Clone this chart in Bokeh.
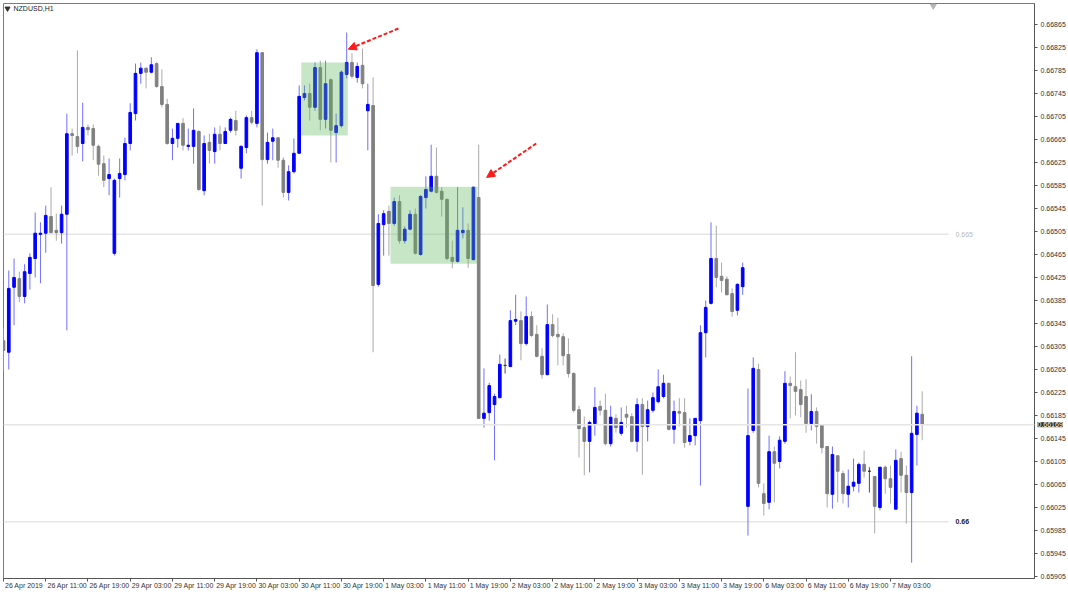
from bokeh.plotting import figure
from bokeh.models import (ColumnDataSource, Range1d, FixedTicker, PrintfTickFormatter,
                          Label, Arrow, NormalHead, Span, BoxAnnotation, LinearAxis)
from bokeh.embed import file_html
from bokeh.resources import INLINE

# ---------------- data (NZDUSD, H1, one bar per hour, index 0 = 26 Apr 2019 03:00) -------------
opens = [
    0.66315, 0.66295, 0.66408, 0.66423, 0.66392, 0.66432, 0.66458, 0.66500, 0.66502, 0.66531,
    0.66507, 0.66503, 0.66535, 0.66675, 0.66670, 0.66658, 0.66686, 0.66684, 0.66653, 0.66623,
    0.66597, 0.66467, 0.66597, 0.66604, 0.66658, 0.66710, 0.66780, 0.66789, 0.66782, 0.66797,
    0.66757, 0.66726, 0.66658, 0.66667, 0.66693, 0.66653, 0.66653, 0.66679, 0.66576, 0.66660,
    0.66644, 0.66674, 0.66658, 0.66681, 0.66698, 0.66615, 0.66651, 0.66703, 0.66693, 0.66816,
    0.66630, 0.66662, 0.66668, 0.66629, 0.66573, 0.66609, 0.66641, 0.66738, 0.66745, 0.66721,
    0.66790, 0.66700, 0.66769, 0.66677, 0.66689, 0.66778, 0.66799, 0.66773, 0.66794, 0.66715,
    0.66724, 0.66413, 0.66517, 0.66540, 0.66519, 0.66557, 0.66489, 0.66509, 0.66535, 0.66465,
    0.66564, 0.66575, 0.66601, 0.66575, 0.66561, 0.66460, 0.66453, 0.66503, 0.66507, 0.66456,
    0.66564, 0.66180, 0.66190, 0.66204, 0.66216, 0.66272, 0.66270, 0.66349, 0.66350, 0.66310,
    0.66357, 0.66326, 0.66288, 0.66256, 0.66343, 0.66326, 0.66322, 0.66291, 0.66258, 0.66195,
    0.66164, 0.66140, 0.66171, 0.66201, 0.66194, 0.66136, 0.66180, 0.66154, 0.66187, 0.66183,
    0.66140, 0.66204, 0.66166, 0.66194, 0.66209, 0.66218, 0.66241, 0.66161, 0.66192, 0.66190,
    0.66140, 0.66150, 0.66176, 0.66329, 0.66380, 0.66458, 0.66427, 0.66422, 0.66397, 0.66368,
    0.66409, 0.66027, 0.66159, 0.66265, 0.66049, 0.66034, 0.66122, 0.66105, 0.66140, 0.66241,
    0.66235, 0.66230, 0.66218, 0.66171, 0.66192, 0.66169, 0.66131, 0.66048, 0.66115, 0.66084,
    0.66048, 0.66062, 0.66067, 0.66100, 0.66088, 0.66079, 0.66025, 0.66095, 0.66075, 0.66022,
    0.66110, 0.66081, 0.66051, 0.66152, 0.66187,
]
highs = [
    0.66336, 0.66437, 0.66458, 0.66435, 0.66448, 0.66467, 0.66538, 0.66521, 0.66550, 0.66582,
    0.66536, 0.66550, 0.66710, 0.66684, 0.66820, 0.66729, 0.66691, 0.66691, 0.66656, 0.66637,
    0.66632, 0.66597, 0.66632, 0.66668, 0.66728, 0.66797, 0.66799, 0.66790, 0.66808, 0.66799,
    0.66787, 0.66736, 0.66684, 0.66693, 0.66702, 0.66684, 0.66719, 0.66681, 0.66672, 0.66675,
    0.66686, 0.66689, 0.66686, 0.66703, 0.66715, 0.66655, 0.66707, 0.66715, 0.66822, 0.66816,
    0.66677, 0.66684, 0.66668, 0.66634, 0.66620, 0.66667, 0.66759, 0.66759, 0.66762, 0.66799,
    0.66802, 0.66802, 0.66771, 0.66710, 0.66785, 0.66851, 0.66815, 0.66799, 0.66823, 0.66762,
    0.66773, 0.66535, 0.66542, 0.66550, 0.66564, 0.66568, 0.66514, 0.66542, 0.66545, 0.66568,
    0.66601, 0.66656, 0.66651, 0.66582, 0.66562, 0.66489, 0.66582, 0.66547, 0.66519, 0.66583,
    0.66656, 0.66267, 0.66242, 0.66223, 0.66291, 0.66284, 0.66368, 0.66395, 0.66366, 0.66392,
    0.66366, 0.66342, 0.66302, 0.66378, 0.66361, 0.66355, 0.66328, 0.66319, 0.66260, 0.66202,
    0.66183, 0.66176, 0.66234, 0.66211, 0.66223, 0.66202, 0.66187, 0.66199, 0.66202, 0.66189,
    0.66215, 0.66215, 0.66211, 0.66225, 0.66265, 0.66256, 0.66242, 0.66211, 0.66215, 0.66215,
    0.66180, 0.66180, 0.66342, 0.66385, 0.66521, 0.66515, 0.66451, 0.66427, 0.66406, 0.66415,
    0.66451, 0.66232, 0.66286, 0.66275, 0.66067, 0.66150, 0.66131, 0.66149, 0.66262, 0.66253,
    0.66295, 0.66246, 0.66248, 0.66222, 0.66199, 0.66169, 0.66131, 0.66131, 0.66115, 0.66089,
    0.66091, 0.66110, 0.66103, 0.66124, 0.66095, 0.66079, 0.66096, 0.66098, 0.66098, 0.66126,
    0.66122, 0.66098, 0.66288, 0.66202, 0.66227,
]
lows = [
    0.66263, 0.66265, 0.66342, 0.66382, 0.66380, 0.66404, 0.66425, 0.66415, 0.66468, 0.66502,
    0.66489, 0.66484, 0.66333, 0.66637, 0.66641, 0.66627, 0.66672, 0.66629, 0.66602, 0.66582,
    0.66568, 0.66463, 0.66564, 0.66594, 0.66646, 0.66698, 0.66762, 0.66754, 0.66780, 0.66755,
    0.66721, 0.66656, 0.66629, 0.66651, 0.66646, 0.66646, 0.66623, 0.66576, 0.66568, 0.66623,
    0.66623, 0.66646, 0.66658, 0.66677, 0.66672, 0.66597, 0.66641, 0.66691, 0.66686, 0.66550,
    0.66623, 0.66629, 0.66616, 0.66564, 0.66559, 0.66606, 0.66641, 0.66733, 0.66698, 0.66715,
    0.66681, 0.66684, 0.66625, 0.66625, 0.66686, 0.66771, 0.66771, 0.66764, 0.66754, 0.66646,
    0.66295, 0.66409, 0.66463, 0.66463, 0.66515, 0.66484, 0.66484, 0.66507, 0.66465, 0.66463,
    0.66545, 0.66573, 0.66571, 0.66531, 0.66455, 0.66441, 0.66451, 0.66493, 0.66442, 0.66455,
    0.66180, 0.66164, 0.66176, 0.66107, 0.66215, 0.66258, 0.66270, 0.66342, 0.66281, 0.66307,
    0.66322, 0.66286, 0.66249, 0.66255, 0.66321, 0.66272, 0.66272, 0.66251, 0.66190, 0.66112,
    0.66081, 0.66086, 0.66150, 0.66185, 0.66133, 0.66131, 0.66155, 0.66150, 0.66164, 0.66138,
    0.66122, 0.66082, 0.66140, 0.66190, 0.66206, 0.66215, 0.66159, 0.66136, 0.66166, 0.66129,
    0.66133, 0.66133, 0.66063, 0.66286, 0.66378, 0.66408, 0.66399, 0.66394, 0.66357, 0.66359,
    0.66395, 0.65976, 0.66155, 0.66060, 0.66011, 0.66022, 0.66034, 0.66093, 0.66136, 0.66180,
    0.66185, 0.66182, 0.66155, 0.66159, 0.66136, 0.66119, 0.66025, 0.66023, 0.66034, 0.66032,
    0.66025, 0.66053, 0.66051, 0.66077, 0.66051, 0.65980, 0.66020, 0.66049, 0.66032, 0.66022,
    0.66051, 0.65997, 0.65929, 0.66098, 0.66142,
]
closes = [
    0.66298, 0.66406, 0.66425, 0.66392, 0.66435, 0.66460, 0.66502, 0.66502, 0.66533, 0.66503,
    0.66503, 0.66535, 0.66675, 0.66672, 0.66653, 0.66686, 0.66682, 0.66655, 0.66622, 0.66594,
    0.66604, 0.66594, 0.66606, 0.66658, 0.66712, 0.66780, 0.66789, 0.66782, 0.66795, 0.66757,
    0.66726, 0.66658, 0.66667, 0.66693, 0.66655, 0.66655, 0.66681, 0.66578, 0.66658, 0.66646,
    0.66674, 0.66658, 0.66679, 0.66700, 0.66681, 0.66653, 0.66703, 0.66695, 0.66816, 0.66630,
    0.66660, 0.66668, 0.66629, 0.66573, 0.66609, 0.66641, 0.66740, 0.66745, 0.66721, 0.66790,
    0.66700, 0.66762, 0.66681, 0.66689, 0.66782, 0.66799, 0.66775, 0.66792, 0.66762, 0.66726,
    0.66411, 0.66519, 0.66536, 0.66519, 0.66557, 0.66489, 0.66509, 0.66535, 0.66467, 0.66566,
    0.66578, 0.66601, 0.66573, 0.66561, 0.66458, 0.66453, 0.66507, 0.66507, 0.66458, 0.66582,
    0.66180, 0.66189, 0.66237, 0.66218, 0.66274, 0.66272, 0.66350, 0.66352, 0.66310, 0.66357,
    0.66324, 0.66288, 0.66256, 0.66343, 0.66324, 0.66322, 0.66289, 0.66258, 0.66194, 0.66162,
    0.66140, 0.66173, 0.66199, 0.66194, 0.66136, 0.66182, 0.66164, 0.66173, 0.66182, 0.66140,
    0.66204, 0.66166, 0.66195, 0.66216, 0.66235, 0.66241, 0.66161, 0.66192, 0.66189, 0.66138,
    0.66150, 0.66180, 0.66329, 0.66373, 0.66458, 0.66425, 0.66420, 0.66395, 0.66366, 0.66413,
    0.66442, 0.66150, 0.66267, 0.66067, 0.66032, 0.66122, 0.66102, 0.66142, 0.66241, 0.66237,
    0.66227, 0.66204, 0.66171, 0.66192, 0.66166, 0.66129, 0.66049, 0.66117, 0.66088, 0.66049,
    0.66062, 0.66069, 0.66100, 0.66088, 0.66088, 0.66027, 0.66095, 0.66075, 0.66060, 0.66107,
    0.66081, 0.66051, 0.66154, 0.66189, 0.66169,
]

time_tick_index = [0, 8, 16, 24, 32, 40, 48, 56, 64, 72, 80, 88, 96, 104, 112, 120, 128, 136, 144, 152, 160, 168]
time_tick_labels = ["26 Apr 2019", "26 Apr 11:00", "26 Apr 19:00", "29 Apr 03:00", "29 Apr 11:00",
                    "29 Apr 19:00", "30 Apr 03:00", "30 Apr 11:00", "30 Apr 19:00", "1 May 03:00",
                    "1 May 11:00", "1 May 19:00", "2 May 03:00", "2 May 11:00", "2 May 19:00",
                    "3 May 03:00", "3 May 11:00", "3 May 19:00", "6 May 03:00", "6 May 11:00",
                    "6 May 19:00", "7 May 03:00"]
price_ticks = [0.66865, 0.66825, 0.66785, 0.66745, 0.66705, 0.66665, 0.66625, 0.66585, 0.66545,
               0.66505, 0.66465, 0.66425, 0.66385, 0.66345, 0.66305, 0.66265, 0.66225, 0.66185,
               0.66145, 0.66105, 0.66065, 0.66025, 0.65985, 0.65945, 0.65905]

level_prices = [0.665, 0.66]
level_labels = ["0.665", "0.66"]
current_price = 0.66169

# highlighted zones: (start bar, end bar, top price, bottom price)
zone1 = (56.4, 65.2, 0.66799, 0.66672)
zone2 = (73.3, 89.8, 0.66583, 0.66449)
# arrows: (x_start, y_start, x_end, y_end)
arrow1 = (74.8, 0.66858, 65.3, 0.66822)
arrow2 = (100.9, 0.66658, 91.5, 0.66599)

# ---------------- layout constants ------------------------------------------------------------
FRAME_W, FRAME_H = 1031, 575
X_END = 195.27            # bars visible across the frame
Y_LO, Y_HI = 0.659015, 0.669015
PX_PER_BAR = FRAME_W / X_END
FONT = "Liberation Sans"
FS = 7

# ---------------- build -----------------------------------------------------------------------
n = len(opens)
xs = list(range(n))
body_col, wick_col = [], []
for o, c in zip(opens, closes):
    if c > o:
        body_col.append("#0000ff"); wick_col.append("#7070ff")
    elif c < o:
        body_col.append("#808080"); wick_col.append("#aaaaaa")
    else:
        body_col.append("#303030"); wick_col.append("#505050")

src = ColumnDataSource(dict(
    x=xs, h=highs, l=lows,
    top=[max(o, c) for o, c in zip(opens, closes)],
    bottom=[min(o, c) for o, c in zip(opens, closes)],
    body=body_col, wick=wick_col,
))

p = figure(frame_width=FRAME_W, frame_height=FRAME_H, x_range=Range1d(0, X_END),
           y_range=Range1d(Y_LO, Y_HI),
           y_axis_location="right", output_backend="svg", toolbar_location=None,
           min_border_left=3, min_border_top=3, min_border_right=0, min_border_bottom=0,
           background_fill_color="white", border_fill_color="white")
p.grid.visible = False
p.outline_line_color = "#7a7a7a"

# level lines
p.segment(x0=[0, 0], x1=[179, 179], y0=level_prices, y1=level_prices,
          line_color="#e6e6e6", line_width=1.5)
p.add_layout(Span(location=current_price, dimension="width", line_color="#e6e6e6", line_width=1.5))

# candles
p.segment(x0="x", x1="x", y0="h", y1="l", source=src, line_color="wick", line_width=1)
p.vbar(x="x", top="top", bottom="bottom", width=0.5, source=src,
       fill_color="body", line_color="body", line_width=1)

# zones
for (x0, x1, t, b) in (zone1, zone2):
    p.add_layout(BoxAnnotation(left=x0, right=x1, top=t, bottom=b,
                               fill_color="#5cb85c", fill_alpha=0.35, line_alpha=0))

# arrows
for (xs0, ys0, xe, ye) in (arrow1, arrow2):
    p.add_layout(Arrow(x_start=xs0, y_start=ys0, x_end=xe, y_end=ye,
                       line_color="#ff1a1a", line_width=2, line_dash="4 2",
                       end=NormalHead(size=8, fill_color="#ff1a1a", line_color="#ff1a1a")))

# level labels
p.add_layout(Label(x=180.3, y=level_prices[0], text=level_labels[0], text_font=FONT,
                   text_font_size="7px", text_color="#b8b8b8", text_baseline="middle"))
p.add_layout(Label(x=180.3, y=level_prices[1], text=level_labels[1], text_font=FONT,
                   text_font_size="7px", text_color="#222222", text_font_style="bold",
                   text_baseline="middle"))

# symbol caption and chart-shift marker
p.scatter(x=[0.76], y=[0.668928], marker="inverted_triangle", size=5, color="#333333")
p.add_layout(Label(x=1.9, y=0.668928, text="NZDUSD,H1", text_font=FONT, text_font_size="7px",
                   text_color="#222222", text_baseline="middle"))
p.scatter(x=[176.1], y=[0.668975], marker="inverted_triangle", size=6, color="#b4b4b4")

# ---------------- axes --------------------------------------------------------------------
# bottom axis 1: tick marks only, at the bar of each time label
xa = p.xaxis[0]
xa.ticker = FixedTicker(ticks=time_tick_index)
xa.major_label_overrides = {t: "" for t in time_tick_index}
xa.major_label_text_font_size = "1px"
xa.major_label_standoff = 0
xa.major_tick_out = 3
xa.major_tick_in = 0
xa.minor_tick_line_color = None
xa.axis_line_color = "#555555"
xa.major_tick_line_color = "#555555"

# bottom axis 2: the time labels, placed so that each starts just right of its tick
CW = {" ": .278, ":": .278, "A": .667, "p": .556, "r": .333, "M": .833, "a": .556, "y": .5}
def text_w(s):
    return sum(CW.get(ch, .556) for ch in s) * FS

label_pos = [round(t + (1.5 + text_w(s) / 2) / PX_PER_BAR, 4)
             for t, s in zip(time_tick_index, time_tick_labels)]
xa2 = LinearAxis(ticker=FixedTicker(ticks=label_pos),
                 major_label_overrides={pos: s for pos, s in zip(label_pos, time_tick_labels)})
xa2.major_label_text_font = FONT
xa2.major_label_text_font_size = "7px"
xa2.major_label_text_color = "#333333"
xa2.major_label_standoff = 0
xa2.major_tick_out = 0
xa2.major_tick_in = 0
xa2.major_tick_line_color = None
xa2.minor_tick_line_color = None
xa2.axis_line_color = None
p.add_layout(xa2, "below")

ya = p.yaxis[0]
ya.ticker = FixedTicker(ticks=price_ticks)
ya.formatter = PrintfTickFormatter(format="%.5f")
ya.major_label_text_font = FONT
ya.major_label_text_font_size = "7px"
ya.major_label_text_color = "#333333"
ya.major_label_standoff = 3
ya.major_tick_out = 3
ya.major_tick_in = 0
ya.minor_tick_line_color = None
ya.axis_line_color = "#555555"
ya.major_tick_line_color = "#555555"

# current price tag on the price axis (kept in a side panel so it is not clipped to the frame)
p.add_layout(Label(x=X_END, y=current_price, text="{:.5f}".format(current_price), x_offset=3,
                   text_font=FONT, text_font_size="7px", text_color="white",
                   background_fill_color="#2b2b2b", text_baseline="middle"), "right")

open("out.html", "w").write(file_html(p, INLINE))
